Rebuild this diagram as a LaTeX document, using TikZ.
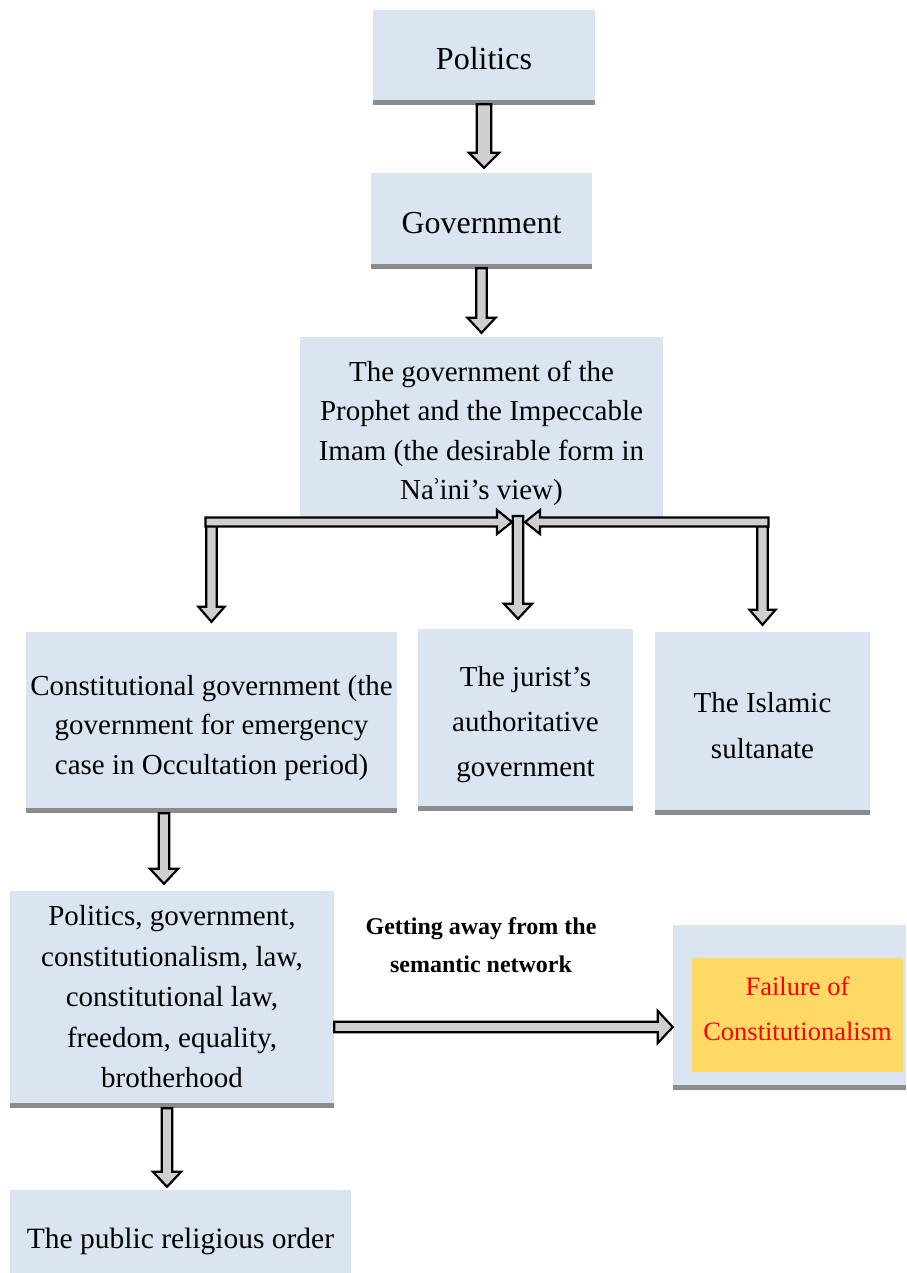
\documentclass[tikz,border=0pt]{standalone}
\usepackage{fontspec}
\setmainfont{Liberation Serif}
\usetikzlibrary{calc}
\definecolor{boxblue}{RGB}{219,229,241}
\definecolor{arrowgrey}{RGB}{208,206,206}
\definecolor{gold}{RGB}{255,217,102}
\newcommand{\upstrut}[1]{\rule{0pt}{#1}}
\newcommand{\downstrut}[1]{\rule[-#1]{0pt}{0pt}}
\tikzset{
  box/.style={fill=boxblue, inner sep=0pt, align=center,
    font=\fontsize{29}{39.5}\selectfont},
  shadowband/.style={fill=black!45},
  ba shaft/.store in=\bashaft, ba head/.store in=\bahead, ba len/.store in=\balen,
  ba shaft=5.2pt, ba head=14pt, ba len=15pt,
  blockarrow/.style={draw=black, line width=2.2pt, fill=arrowgrey, line join=miter,
    to path={
      ($(\tikztotarget)!\balen!(\tikztostart)$) coordinate (bah)
      ($(\tikztostart)!\bashaft!90:(\tikztotarget)$)
      -- ($(bah)!\bashaft!90:(\tikztotarget)$)
      -- ($(bah)!\bahead!90:(\tikztotarget)$)
      -- (\tikztotarget)
      -- ($(bah)!\bahead!-90:(\tikztotarget)$)
      -- ($(bah)!\bashaft!-90:(\tikztotarget)$)
      -- ($(\tikztostart)!\bashaft!-90:(\tikztotarget)$)
      -- cycle}},
}
\begin{document}
\begin{tikzpicture}[x=1pt,y=-1pt]
\useasboundingbox (0,0) rectangle (906,1273);

\node[box, minimum width=222pt, minimum height=90pt, font=\fontsize{32}{40}\selectfont] (pol) at (484,55)
  {\upstrut{30pt}Politics};
\node[box, minimum width=221pt, minimum height=91pt, font=\fontsize{32}{40}\selectfont] (gov) at (481.5,218.5)
  {\upstrut{30pt}Government};
\node[box, minimum width=363pt, minimum height=181pt] (prophet) at (481.5,427.5)
  {\upstrut{32pt}The government of the\\Prophet and the Impeccable\\Imam (the desirable form in\\Na\kern-2ptʾ\kern-2ptini’s view)};
\node[box, minimum width=371pt, minimum height=176pt] (const) at (211.5,720)
  {\upstrut{36pt}Constitutional government (the\\government for emergency\\case in Occultation period)};
\node[box, minimum width=215pt, minimum height=177pt, font=\fontsize{29}{45}\selectfont] (jurist) at (525.5,717.5)
  {\upstrut{35pt}The jurist’s\\authoritative\\government};
\node[box, minimum width=215pt, minimum height=178pt, font=\fontsize{29}{46}\selectfont] (islamic) at (762.5,721)
  {\upstrut{30pt}The Islamic\\sultanate};
\node[box, minimum width=324pt, minimum height=212pt, font=\fontsize{29}{40.5}\selectfont] (list) at (172,997)
  {Politics, government,\\constitutionalism, law,\\constitutional law,\\freedom, equality,\\brotherhood};
\node[box, minimum width=341pt, minimum height=102pt, font=\fontsize{29.5}{40}\selectfont] (public) at (180.5,1241)
  {The public religious order};
\node[box, minimum width=233pt, minimum height=160pt] (fail) at (789.5,1005) {};
\node[fill=gold, inner sep=0pt, align=center, minimum width=211pt, minimum height=114pt,
  text=red, font=\fontsize{26.5}{45}\selectfont] (failin) at (797.5,1015)
  {Failure of\\Constitutionalism\downstrut{12pt}};

\foreach \b in {pol,gov,const,jurist,islamic,list,fail}
  \fill[shadowband] (\b.south west) rectangle ([yshift=-5pt]\b.south east);

\node[font=\bfseries\fontsize{24}{38}\selectfont, align=center, inner sep=0pt] (away) at (481,945)
  {Getting away from the\\semantic network};

\draw[blockarrow, ba shaft=7.3pt, ba head=15pt] ([yshift=-4pt]pol.south) to ([yshift=5pt]gov.north -| pol.south);
\draw[blockarrow] ([yshift=-4pt]gov.south) to ([yshift=4pt]prophet.north);

\coordinate (hub) at (518,522);
\coordinate (forkL) at (211.5,522);
\coordinate (forkR) at (762.5,522);
\draw[blockarrow, ba head=13pt] (forkL) to ([yshift=10pt]const.north);
\draw[blockarrow, ba head=13pt] (forkR) to ([yshift=7pt]islamic.north);
\draw[blockarrow, ba shaft=4.5pt, ba head=12pt] ([xshift=-6pt]forkL) to ([xshift=-6pt]hub);
\draw[blockarrow, ba shaft=4.5pt, ba head=12pt] ([xshift=6pt]forkR) to ([xshift=7pt]hub);
\draw[blockarrow] ([yshift=6pt]hub) to ([yshift=10pt]hub |- jurist.north);

\draw[blockarrow] ([xshift=-47.5pt,yshift=-5pt]const.south) to ([xshift=-8pt,yshift=7pt]list.north);
\draw[blockarrow] ([xshift=-5pt,yshift=-5pt]list.south) to ([xshift=-13.5pt,yshift=3pt]public.north);
\draw[blockarrow, ba head=16pt] ([yshift=-30pt]list.east) to ([yshift=-22pt]fail.west);
\end{tikzpicture}
\end{document}
